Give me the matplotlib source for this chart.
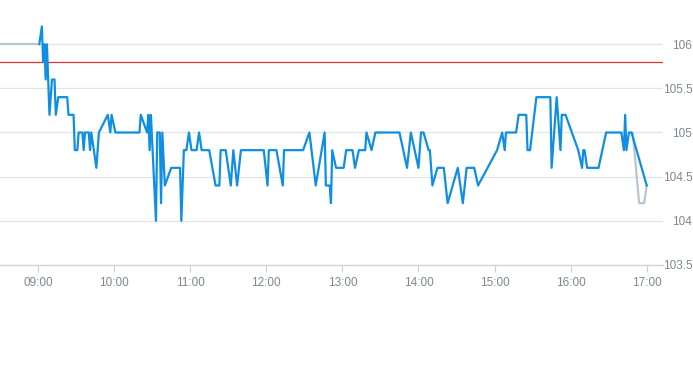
import pandas as pd
import matplotlib
matplotlib.use('Agg')
import matplotlib.pyplot as plt
import matplotlib.dates as mdates

plt.rcParams['font.family'] = ['Liberation Sans', 'DejaVu Sans']

# intraday price (blue)
times = ['09:01', '09:03', '09:04', '09:05', '09:06', '09:07', '09:09', '09:11', '09:13', '09:14',
         '09:16', '09:23', '09:24', '09:28', '09:29', '09:31', '09:32', '09:35', '09:36', '09:37',
         '09:40', '09:41', '09:42', '09:46', '09:48', '09:55', '09:57', '09:58', '10:01', '10:20',
         '10:21', '10:26', '10:27', '10:28', '10:29', '10:33', '10:34', '10:36', '10:37', '10:38',
         '10:40', '10:45', '10:52', '10:53', '10:55', '10:57', '10:59', '11:01', '11:05', '11:07',
         '11:09', '11:15', '11:20', '11:23', '11:24', '11:28', '11:32', '11:34', '11:37', '11:40',
         '11:58', '12:01', '12:02', '12:08', '12:13', '12:14', '12:29', '12:34', '12:39', '12:46',
         '12:47', '12:50', '12:51', '12:52', '12:55', '13:01', '13:03', '13:08', '13:10', '13:13',
         '13:18', '13:19', '13:23', '13:26', '13:45', '13:51', '13:54', '14:00', '14:02', '14:04',
         '14:08', '14:09', '14:11', '14:15', '14:20', '14:23', '14:31', '14:35', '14:38', '14:44',
         '14:47', '15:02', '15:06', '15:08', '15:09', '15:17', '15:19', '15:25', '15:26', '15:28',
         '15:33', '15:44', '15:45', '15:49', '15:52', '15:53', '15:56', '16:06', '16:09', '16:10',
         '16:11', '16:13', '16:22', '16:28', '16:40', '16:42', '16:43', '16:44', '16:46', '16:48',
         '17:00']
prices = [106.0, 106.2, 105.8, 106.0, 105.6, 106.0, 105.2, 105.6, 105.6, 105.2,
          105.4, 105.4, 105.2, 105.2, 104.8, 104.8, 105.0, 105.0, 104.8, 105.0,
          105.0, 104.8, 105.0, 104.6, 105.0, 105.2, 105.0, 105.2, 105.0, 105.0,
          105.2, 105.0, 105.2, 104.8, 105.2, 104.0, 105.0, 105.0, 104.2, 105.0,
          104.4, 104.6, 104.6, 104.0, 104.8, 104.8, 105.0, 104.8, 104.8, 105.0,
          104.8, 104.8, 104.4, 104.4, 104.8, 104.8, 104.4, 104.8, 104.4, 104.8,
          104.8, 104.4, 104.8, 104.8, 104.4, 104.8, 104.8, 105.0, 104.4, 105.0,
          104.4, 104.4, 104.2, 104.8, 104.6, 104.6, 104.8, 104.8, 104.6, 104.8,
          104.8, 105.0, 104.8, 105.0, 105.0, 104.6, 105.0, 104.6, 105.0, 105.0,
          104.8, 104.8, 104.4, 104.6, 104.6, 104.2, 104.6, 104.2, 104.6, 104.6,
          104.4, 104.8, 105.0, 104.8, 105.0, 105.0, 105.2, 105.2, 104.8, 104.8,
          105.4, 105.4, 104.6, 105.4, 104.8, 105.2, 105.2, 104.8, 104.6, 104.8,
          104.8, 104.6, 104.6, 105.0, 105.0, 104.8, 105.2, 104.8, 105.0, 105.0,
          104.4]

# grey reference series (pre-open and closing part)
grey_head_times = ['08:30', '09:01']
grey_head_prices = [106.0, 106.0]
grey_tail_times = ['16:48', '16:49', '16:54', '16:58', '17:00']
grey_tail_prices = [105.0, 105.0, 104.2, 104.2, 104.4]

ref_level = 105.8
yticks = [103.5, 104, 104.5, 105, 105.5, 106]
ytick_labels = ['103.5', '104', '104.5', '105', '105.5', '106']


def to_dt(ts):
    return pd.to_datetime(['2020-01-02 ' + t for t in ts])


fig = plt.figure(figsize=(6.93, 3.65), dpi=100)
ax = fig.add_axes([0.0, 0.274, 0.957, 0.726])

ax.plot(to_dt(grey_head_times), grey_head_prices, color='#b9c6cf', lw=1.6, zorder=2)
ax.plot(to_dt(grey_tail_times), grey_tail_prices, color='#b9c6cf', lw=1.6, zorder=2)
ax.plot(to_dt(times), prices, color='#0f8fe3', lw=1.6, zorder=3)
ax.axhline(ref_level, color='#d9362b', lw=0.9, zorder=2)

ax.set_ylim(103.5, 106.5)
ax.set_xlim(pd.Timestamp('2020-01-02 08:30'), pd.Timestamp('2020-01-02 17:13'))

ax.set_yticks(yticks)
ax.set_yticklabels(ytick_labels)
ax.yaxis.tick_right()
ax.grid(axis='y', color='#e2e5e8', lw=0.9)
ax.set_axisbelow(True)

ax.xaxis.set_major_locator(mdates.HourLocator(byhour=range(9, 18)))
ax.xaxis.set_major_formatter(mdates.DateFormatter('%H:%M'))

for s in ['top', 'left', 'right']:
    ax.spines[s].set_visible(False)
ax.spines['bottom'].set_color('#ccd3d9')
ax.spines['bottom'].set_linewidth(0.9)

ax.tick_params(axis='x', colors='#ccd3d9', length=5, width=0.9, pad=4,
               labelcolor='#7d8893', labelsize=8.5)
ax.tick_params(axis='y', length=0, pad=21, labelcolor='#7d8893', labelsize=8.5)
for lab in ax.get_yticklabels():
    lab.set_horizontalalignment('right')

plt.savefig('out.png', dpi=100)
